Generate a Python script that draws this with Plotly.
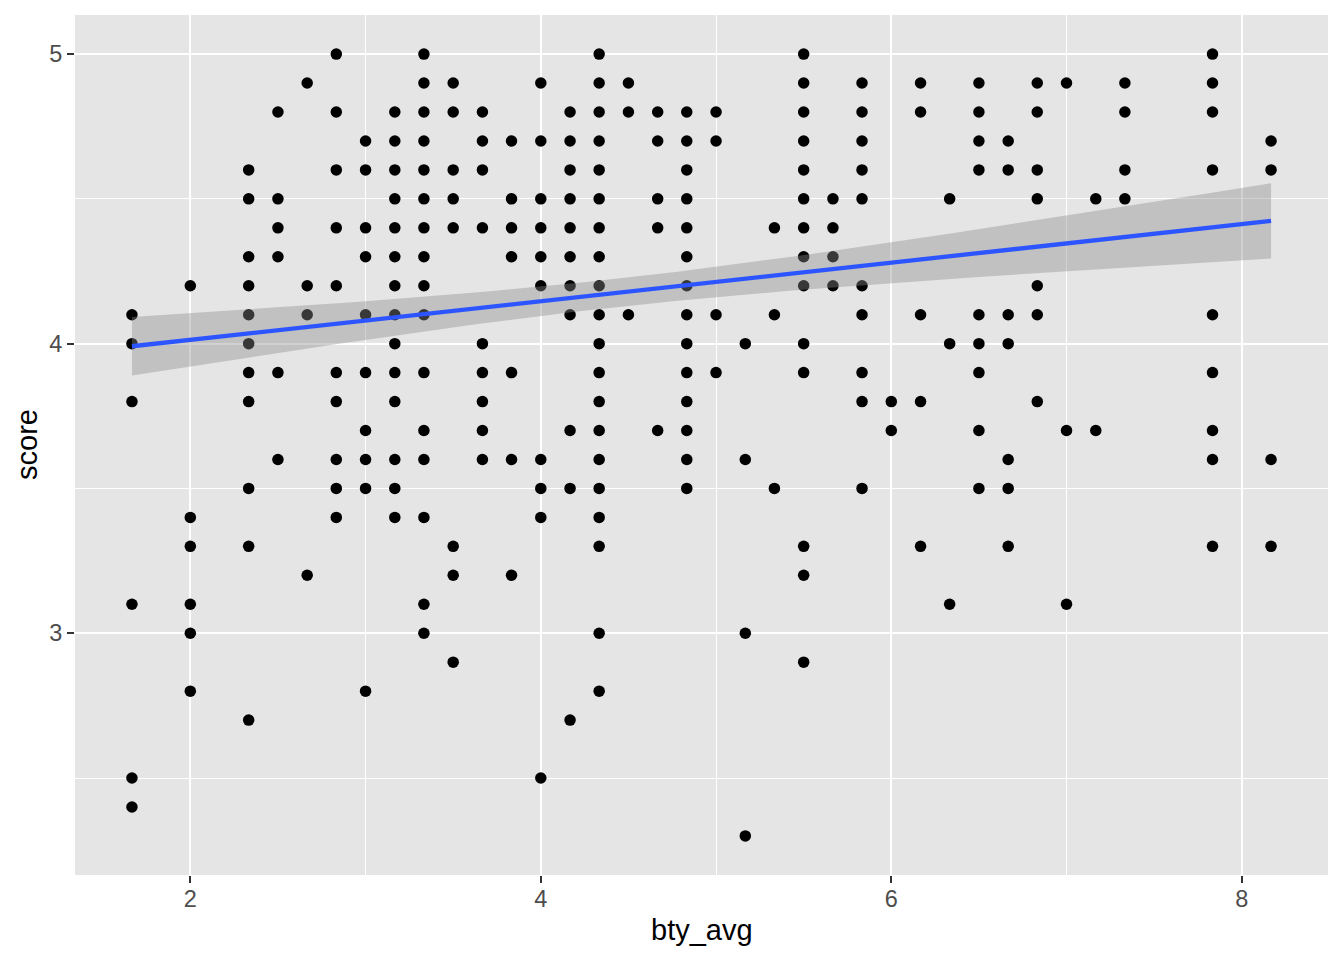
import numpy as np
import plotly.graph_objects as go

# ---- data (bty_avg column -> scores) ----
bty_1667 = [4.1, 4.0, 3.8, 3.1, 2.5, 2.4]
bty_2000 = [4.2, 3.4, 3.3, 3.1, 3.0, 2.8]
bty_2333 = [4.6, 4.5, 4.3, 4.2, 4.1, 4.0, 3.9, 3.8, 3.5, 3.3, 2.7]
bty_2500 = [4.8, 4.5, 4.4, 4.3, 3.9, 3.6]
bty_2667 = [4.9, 4.2, 4.1, 3.2]
bty_2833 = [5.0, 4.8, 4.6, 4.4, 4.2, 3.9, 3.8, 3.6, 3.5, 3.4]
bty_3000 = [4.7, 4.6, 4.4, 4.3, 4.1, 3.9, 3.7, 3.6, 3.5, 2.8]
bty_3167 = [4.8, 4.7, 4.6, 4.5, 4.4, 4.3, 4.2, 4.1, 4.0, 3.9, 3.8, 3.6, 3.5, 3.4]
bty_3333 = [5.0, 4.9, 4.8, 4.7, 4.6, 4.5, 4.4, 4.3, 4.2, 4.1, 3.9, 3.7, 3.6, 3.4, 3.1, 3.0]
bty_3500 = [4.9, 4.8, 4.6, 4.5, 4.4, 3.3, 3.2, 2.9]
bty_3667 = [4.8, 4.7, 4.6, 4.4, 4.0, 3.9, 3.8, 3.7, 3.6]
bty_3833 = [4.7, 4.5, 4.4, 4.3, 3.9, 3.6, 3.2]
bty_4000 = [4.9, 4.7, 4.5, 4.4, 4.3, 4.2, 3.6, 3.5, 3.4, 2.5]
bty_4167 = [4.8, 4.7, 4.6, 4.5, 4.4, 4.3, 4.2, 4.1, 3.7, 3.5, 2.7]
bty_4333 = [5.0, 4.9, 4.8, 4.7, 4.6, 4.5, 4.4, 4.3, 4.2, 4.1, 4.0, 3.9, 3.8, 3.7,
            3.6, 3.5, 3.4, 3.3, 3.0, 2.8]
bty_4500 = [4.9, 4.8, 4.1]
bty_4667 = [4.8, 4.7, 4.5, 4.4, 3.7]
bty_4833 = [4.8, 4.7, 4.6, 4.5, 4.4, 4.3, 4.2, 4.1, 4.0, 3.9, 3.8, 3.7, 3.6, 3.5]
bty_5000 = [4.8, 4.7, 4.1, 3.9]
bty_5167 = [4.0, 3.6, 3.0, 2.3]
bty_5333 = [4.4, 4.1, 3.5]
bty_5500 = [5.0, 4.9, 4.8, 4.7, 4.6, 4.5, 4.4, 4.3, 4.2, 4.0, 3.9, 3.3, 3.2, 2.9]
bty_5667 = [4.5, 4.4, 4.3, 4.2]
bty_5833 = [4.9, 4.8, 4.7, 4.6, 4.5, 4.2, 4.1, 3.9, 3.8, 3.5]
bty_6000 = [3.8, 3.7]
bty_6167 = [4.9, 4.8, 4.1, 3.8, 3.3]
bty_6333 = [4.5, 4.0, 3.1]
bty_6500 = [4.9, 4.8, 4.7, 4.6, 4.1, 4.0, 3.9, 3.7, 3.5]
bty_6667 = [4.7, 4.6, 4.1, 4.0, 3.6, 3.5, 3.3]
bty_6833 = [4.9, 4.8, 4.6, 4.5, 4.2, 4.1, 3.8]
bty_7000 = [4.9, 3.7, 3.1]
bty_7167 = [4.5, 3.7]
bty_7333 = [4.9, 4.8, 4.6, 4.5]
bty_7833 = [5.0, 4.9, 4.8, 4.6, 4.1, 3.9, 3.7, 3.6, 3.3]
bty_8167 = [4.7, 4.6, 3.6, 3.3]

bty_levels = [1.667, 2.0, 2.333, 2.5, 2.667, 2.833, 3.0, 3.167, 3.333, 3.5, 3.667,
              3.833, 4.0, 4.167, 4.333, 4.5, 4.667, 4.833, 5.0, 5.167, 5.333, 5.5,
              5.667, 5.833, 6.0, 6.167, 6.333, 6.5, 6.667, 6.833, 7.0, 7.167,
              7.333, 7.833, 8.167]
score_columns = [bty_1667, bty_2000, bty_2333, bty_2500, bty_2667, bty_2833, bty_3000,
                 bty_3167, bty_3333, bty_3500, bty_3667, bty_3833, bty_4000, bty_4167,
                 bty_4333, bty_4500, bty_4667, bty_4833, bty_5000, bty_5167, bty_5333,
                 bty_5500, bty_5667, bty_5833, bty_6000, bty_6167, bty_6333, bty_6500,
                 bty_6667, bty_6833, bty_7000, bty_7167, bty_7333, bty_7833, bty_8167]

# linear model (lm) estimates read from the fitted line / band
fit_intercept = 3.880
fit_slope = 0.0666
fit_sigma = 0.535
fit_n = 463
fit_xbar = 4.418
fit_sxx = 1077.0
fit_tcrit = 1.965

x_ticks = [2, 4, 6, 8]
y_ticks = [3, 4, 5]
x_title = "bty_avg"
y_title = "score"

# ---- build ----
xs, ys = [], []
for lvl, col in zip(bty_levels, score_columns):
    xs.extend([lvl] * len(col))
    ys.extend(col)

xmin, xmax = min(xs), max(xs)
ymin, ymax = min(ys), max(ys)
xpad = (xmax - xmin) * 0.05
ypad = (ymax - ymin) * 0.05

grid = np.linspace(xmin, xmax, 80)
fit = fit_intercept + fit_slope * grid
se = fit_sigma * np.sqrt(1.0 / fit_n + (grid - fit_xbar) ** 2 / fit_sxx)
lo = fit - fit_tcrit * se
hi = fit + fit_tcrit * se

fig = go.Figure()
fig.add_trace(go.Scatter(x=xs, y=ys, mode="markers",
                         marker=dict(color="black", size=11.5, line=dict(width=0)),
                         hoverinfo="x+y", showlegend=False))
fig.add_trace(go.Scatter(x=np.concatenate([grid, grid[::-1]]),
                         y=np.concatenate([hi, lo[::-1]]),
                         mode="lines", fill="toself",
                         fillcolor="rgba(140,140,140,0.4)",
                         line=dict(width=0), hoverinfo="skip", showlegend=False))
fig.add_trace(go.Scatter(x=grid, y=fit, mode="lines",
                         line=dict(color="#2D55FF", width=4.3),
                         hoverinfo="skip", showlegend=False))

FONT = "Liberation Sans, Arial, sans-serif"
tickfont = dict(family=FONT, size=23.5, color="#4D4D4D")
titlefont = dict(family=FONT, size=29, color="black")

fig.update_layout(
    width=1344, height=960,
    margin=dict(l=67, r=24, t=7, b=93),
    paper_bgcolor="white", plot_bgcolor="#E5E5E5",
    showlegend=False,
    xaxis=dict(range=[xmin - xpad, xmax + xpad], tickvals=x_ticks,
               showgrid=True, gridcolor="white", gridwidth=2.2,
               minor=dict(dtick=1, tick0=0, showgrid=True, gridcolor="white",
                          gridwidth=1.1, ticks=""),
               zeroline=False, showline=False,
               ticks="outside", ticklen=7, tickwidth=2.1, tickcolor="#333333",
               ticklabelstandoff=-4,
               tickfont=tickfont),
    yaxis=dict(range=[ymin - ypad, ymax + ypad], tickvals=y_ticks,
               showgrid=True, gridcolor="white", gridwidth=2.2,
               minor=dict(dtick=0.5, tick0=0, showgrid=True, gridcolor="white",
                          gridwidth=1.1, ticks=""),
               zeroline=False, showline=False,
               ticks="outside", ticklen=7, tickwidth=2.1, tickcolor="#333333",
               tickfont=tickfont),
    annotations=[
        dict(text=x_title, font=titlefont, showarrow=False,
             xref="paper", yref="paper", x=0.5, y=0,
             xanchor="center", yanchor="middle", yshift=-55),
        dict(text=y_title, font=titlefont, showarrow=False, textangle=-90,
             xref="paper", yref="paper", x=0, y=0.5,
             xanchor="center", yanchor="middle", xshift=-48),
    ],
)

fig.write_html("out.html")
